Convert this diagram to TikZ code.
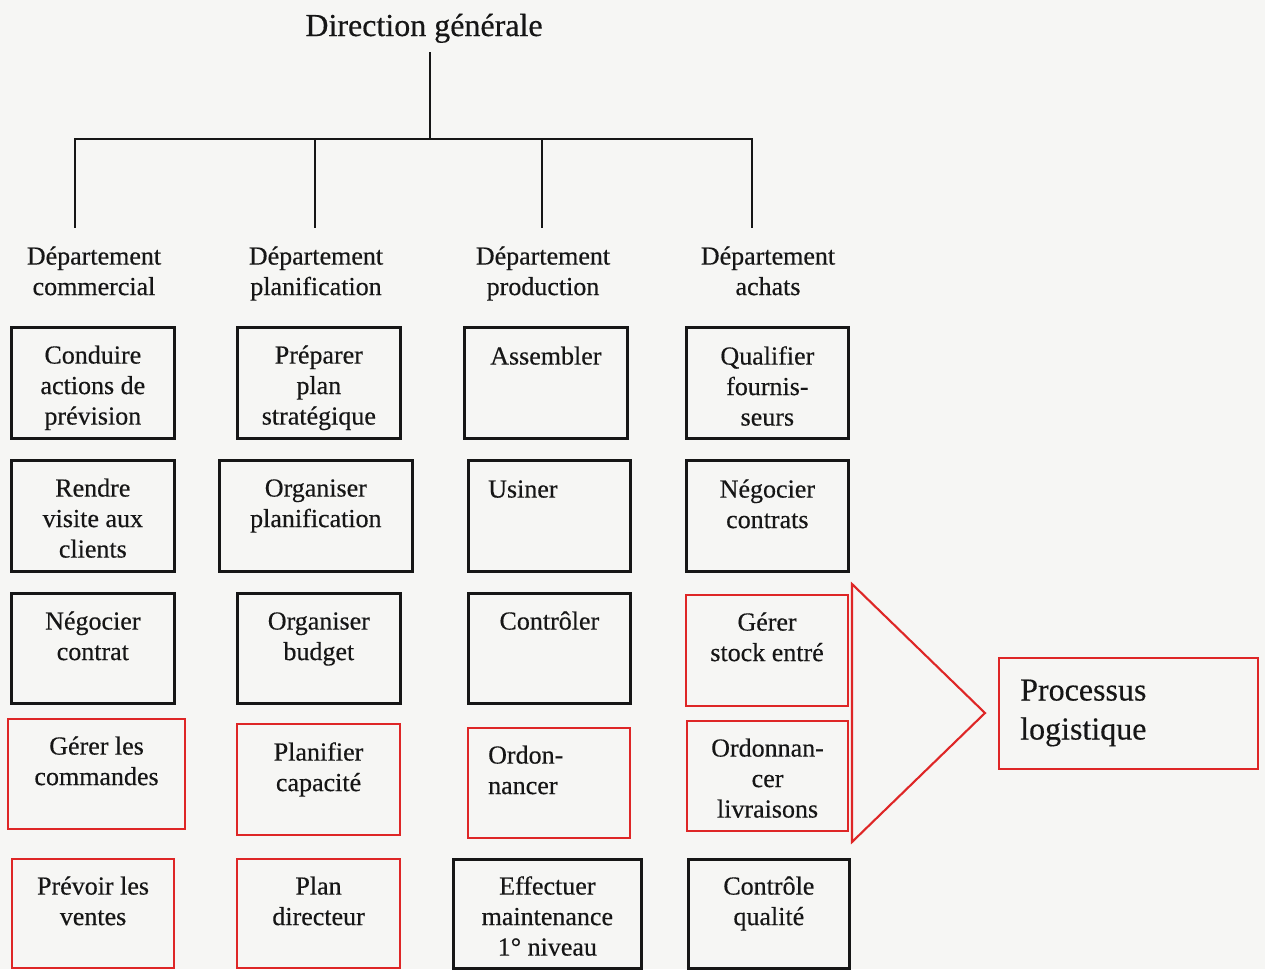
\documentclass[tikz,border=0pt]{standalone}
\usepackage{fontspec}
\setmainfont{Liberation Serif}[FakeBold=0.4]

\definecolor{ink}{RGB}{22,22,22}
\definecolor{accent}{RGB}{222,38,38}
\definecolor{paper}{RGB}{246,246,244}

\tikzset{
  blackbox/.style={rectangle, draw=ink, line width=2.7pt, inner sep=0pt, anchor=north west},
  redbox/.style={rectangle, draw=accent, line width=2.1pt, inner sep=0pt, anchor=north west},
  tasktext/.style={align=center, inner sep=0pt, anchor=north, text=ink,
    font=\fontsize{26}{30.5}\selectfont},
  tasktextleft/.style={tasktext, align=left, anchor=north west},
  bigtext/.style={align=left, inner sep=0pt, anchor=north west, text=ink,
    font=\fontsize{32}{39}\selectfont},
  link/.style={draw=ink, line width=2.7pt},
}

% box: name, style, x, y (top left), width, height
\newcommand\taskbox[6]{%
  \node[#2, minimum width=#5pt, minimum height=#6pt] (#1) at (#3,#4) {};}

\begin{document}
\begin{tikzpicture}[x=1pt,y=-1pt]
\fill[paper] (0,0) rectangle (1265,969);
\useasboundingbox (0,0) rectangle (1265,969);

% ---- top of the hierarchy
\node[inner sep=0pt, anchor=base, text=ink, font=\fontsize{32}{39}\selectfont]
  (dg) at (424,36) {Direction générale};
\coordinate (top) at (430,52);
\coordinate (hub) at (430,139);
\coordinate (b1) at (75,139);
\coordinate (b2) at (315,139);
\coordinate (b3) at (542,139);
\coordinate (b4) at (752,139);
\coordinate (d1) at (75,228);
\coordinate (d2) at (315,228);
\coordinate (d3) at (542,228);
\coordinate (d4) at (752,228);
\draw[link] (top) -- (hub);
\draw[link, line cap=rect] (b1) -- (b4);
\draw[link] (b1) -- (d1);
\draw[link] (b2) -- (d2);
\draw[link] (b3) -- (d3);
\draw[link] (b4) -- (d4);

% ---- departments
\node[tasktext] (dc) at (94,243) {\strut Département\\commercial};
\node[tasktext] (dp) at (316,243) {\strut Département\\planification};
\node[tasktext] (dr) at (543,243) {\strut Département\\production};
\node[tasktext] (da) at (768,243) {\strut Département\\achats};

% ---- commercial
\taskbox{c1}{blackbox}{10}{326}{163}{111}
\taskbox{c2}{blackbox}{10}{459}{163}{111}
\taskbox{c3}{blackbox}{10}{592}{163}{110}
\taskbox{c4}{redbox}{7}{718}{177}{110}
\taskbox{c5}{redbox}{11}{858}{162}{109}
\node[tasktext] (c1t) at ([yshift=-16pt]c1.north) {\strut Conduire\\actions de\\prévision};
\node[tasktext] (c2t) at ([yshift=-16pt]c2.north) {\strut Rendre\\visite aux\\clients};
\node[tasktext] (c3t) at ([yshift=-16pt]c3.north) {\strut Négocier\\contrat};
\node[tasktext] (c4t) at ([yshift=-15pt]c4.north) {\strut Gérer les\\commandes};
\node[tasktext] (c5t) at ([yshift=-15pt]c5.north) {\strut Prévoir les\\ventes};

% ---- planification
\taskbox{p1}{blackbox}{236}{326}{163}{111}
\taskbox{p2}{blackbox}{218}{459}{193}{111}
\taskbox{p3}{blackbox}{236}{592}{163}{110}
\taskbox{p4}{redbox}{236}{723}{163}{111}
\taskbox{p5}{redbox}{236}{858}{163}{109}
\node[tasktext] (p1t) at ([yshift=-16pt]p1.north) {\strut Préparer\\plan\\stratégique};
\node[tasktext] (p2t) at ([yshift=-16pt]p2.north) {\strut Organiser\\planification};
\node[tasktext] (p3t) at ([yshift=-16pt]p3.north) {\strut Organiser\\budget};
\node[tasktext] (p4t) at ([yshift=-16pt]p4.north) {\strut Planifier\\capacité};
\node[tasktext] (p5t) at ([yshift=-15pt]p5.north) {\strut Plan\\directeur};

% ---- production
\taskbox{r1}{blackbox}{463}{326}{163}{111}
\taskbox{r2}{blackbox}{467}{459}{162}{111}
\taskbox{r3}{blackbox}{467}{592}{162}{110}
\taskbox{r4}{redbox}{467}{727}{162}{110}
\taskbox{r5}{blackbox}{452}{858}{188}{109}
\node[tasktext] (r1t) at ([yshift=-17pt]r1.north) {\strut Assembler};
\node[tasktextleft] (r2t) at ([xshift=21pt,yshift=-17pt]r2.north west) {\strut Usiner};
\node[tasktext] (r3t) at ([yshift=-16pt]r3.north) {\strut Contrôler};
\node[tasktextleft] (r4t) at ([xshift=21pt,yshift=-15pt]r4.north west) {\strut Ordon-\\nancer};
\node[tasktext] (r5t) at ([yshift=-15pt]r5.north) {\strut Effectuer\\maintenance\\1° niveau};

% ---- achats
\taskbox{a1}{blackbox}{685}{326}{162}{111}
\taskbox{a2}{blackbox}{685}{459}{162}{111}
\taskbox{a3}{redbox}{685}{594}{162}{111}
\taskbox{a4}{redbox}{686}{720}{161}{110}
\taskbox{a5}{blackbox}{687}{858}{161}{109}
\node[tasktext] (a1t) at ([yshift=-17pt]a1.north) {\strut Qualifier\\fournis-\\seurs};
\node[tasktext] (a2t) at ([yshift=-17pt]a2.north) {\strut Négocier\\contrats};
\node[tasktext] (a3t) at ([yshift=-15pt]a3.north) {\strut Gérer\\stock entré};
\node[tasktext] (a4t) at ([yshift=-15pt]a4.north) {\strut Ordonnan-\\cer\\livraisons};
\node[tasktext] (a5t) at ([yshift=-15pt]a5.north) {\strut Contrôle\\qualité};

% ---- grouping arrow and result
\coordinate (tr1) at (852,584);
\coordinate (tr2) at (985,713);
\coordinate (tr3) at (852,842);
\draw[accent, line width=2.1pt, line join=miter] (tr1) -- (tr2) -- (tr3) -- cycle;

\taskbox{pl}{redbox}{998}{657}{259}{111}
\node[bigtext] (plt) at ([xshift=22pt,yshift=-16pt]pl.north west) {\strut Processus\\logistique};
\end{tikzpicture}
\end{document}
